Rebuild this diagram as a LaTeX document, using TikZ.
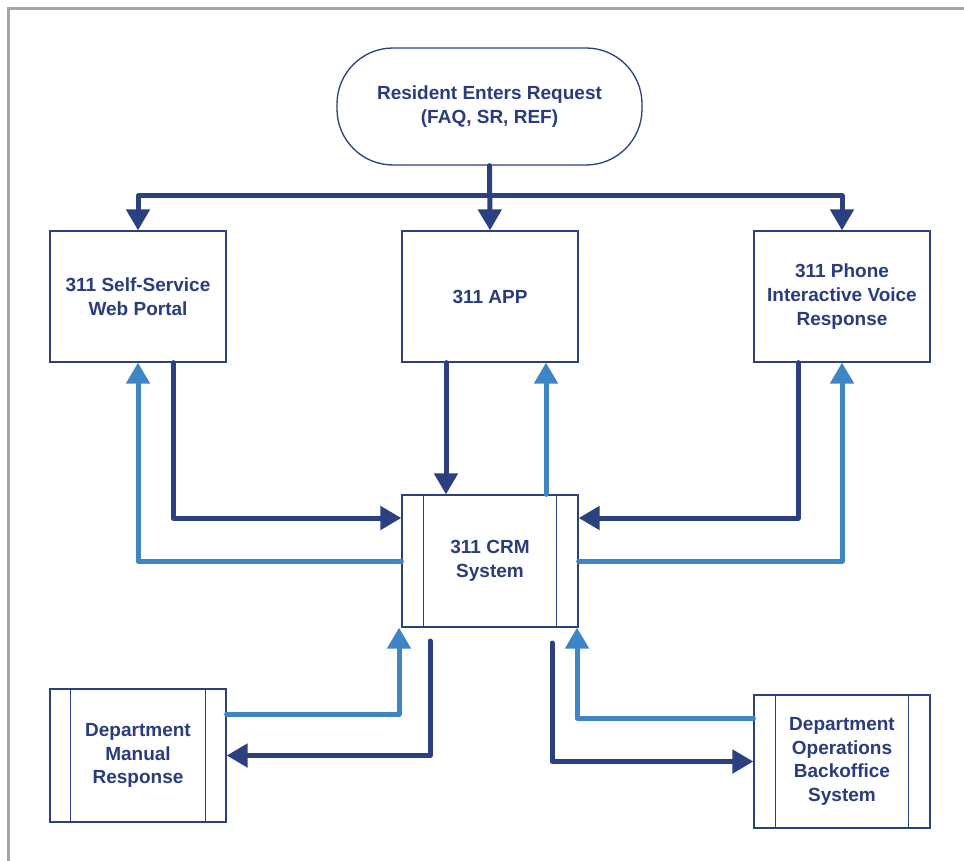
\documentclass[tikz,border=0pt]{standalone}
\usepackage{fontspec}
\setmainfont{Liberation Sans}
\usetikzlibrary{arrows.meta,calc}
\definecolor{navy}{RGB}{43,64,128}
\definecolor{sky}{RGB}{61,133,197}
\definecolor{txt}{RGB}{42,60,125}
\definecolor{frame}{RGB}{165,165,165}
\tikzset{
  base/.style={draw=navy,line width=1.3pt,inner sep=0pt,align=center,text=txt,
    font=\fontsize{19}{23.7}\selectfont\bfseries},
  boxnode/.style={base,minimum width=176pt,minimum height=131pt},
  dk/.style={draw=navy,line width=5pt,line join=round,line cap=round,
    -{Triangle[width=23pt,length=21pt]},color=navy},
  lt/.style={draw=sky,line width=5pt,line join=round,line cap=round,
    -{Triangle[width=23pt,length=21pt]},color=sky},
  inner/.style={draw=navy,line width=1.3pt}
}
\begin{document}
\begin{tikzpicture}[x=1pt,y=-1pt]
\useasboundingbox[fill=white] (0,0) rectangle (964,861);
\draw[frame,line width=3pt] (964,9) -- (8,9) -- (8,861);

% nodes
\node[base,minimum width=305pt,minimum height=117pt,rounded corners=56pt] (term) at (489.5,106.5)
  {Resident Enters Request\\(FAQ, SR, REF)};
\node[boxnode] (web) at (138,296.5) {311 Self-Service\\Web Portal};
\node[boxnode] (app) at (490,296.5) {311 APP};
\node[boxnode] (phone) at (842,296.5) {311 Phone\\Interactive Voice\\Response};
\node[boxnode,minimum height=132pt] (crm) at (490,561) {311 CRM\\System};
\node[boxnode,minimum height=133pt] (manual) at (138,755.5) {Department\\Manual\\Response};
\node[boxnode,minimum height=133pt] (ops) at (842,761.5) {Department\\Operations\\Backoffice\\System};

% inner vertical bars
\foreach \n/\d in {crm/22, manual/21, ops/22}{
  \draw[inner] ([xshift=\d pt]\n.north west) -- ([xshift=\d pt]\n.south west);
  \draw[inner] ([xshift=-\d pt]\n.north east) -- ([xshift=-\d pt]\n.south east);
}

% bend coordinates
\coordinate (j) at (490,196);
\coordinate (wd) at (173,518);
\coordinate (ad) at (446,0);
\coordinate (al) at (546,0);
\coordinate (pd) at (798,518);
\coordinate (ml) at (399,714);
\coordinate (md) at (430,641);
\coordinate (ol) at (577,718);
\coordinate (od) at (552,643);

% top distribution
\draw[dk] (term.south) -- (app.north);
\draw[dk] (j) -| (web.north);
\draw[dk] (j) -| (phone.north);

% web portal
\draw[dk] (web.south -| wd) |- (crm.west |- wd);
\draw[lt] (crm.west) -| (web.south);

% app
\draw[dk] (app.south -| ad) -- (crm.north -| ad);
\draw[lt] (crm.north -| al) -- (app.south -| al);

% phone
\draw[dk] (phone.south -| pd) |- (crm.east |- pd);
\draw[lt] (crm.east) -| (phone.south);

% department manual
\draw[lt] (manual.east |- ml) -| (crm.south -| ml);
\draw[dk] (md) |- (manual.east);

% department operations
\draw[lt] (ops.west |- ol) -| (crm.south -| ol);
\draw[dk] (od) |- (ops.west);
\end{tikzpicture}
\end{document}
